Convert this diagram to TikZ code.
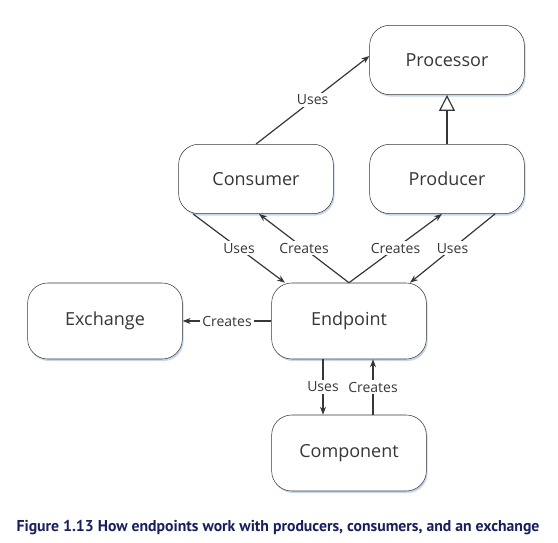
\documentclass[tikz,border=0pt]{standalone}
\usepackage{fontspec}
\setmainfont{Open Sans}
\newfontfamily\capfont{PT Sans}
\usetikzlibrary{arrows.meta, calc, shadows}
\definecolor{ink}{RGB}{55,55,55}
\definecolor{shade}{RGB}{200,214,238}
\definecolor{capblue}{RGB}{25,30,95}

\begin{document}
\begin{tikzpicture}[x=0.75pt, y=-0.75pt,
  n/.style={draw=ink, fill=white, rounded corners=15pt, minimum width=116pt, minimum height=52pt,
            text=ink, font=\fontsize{13.5}{16}\selectfont,
            drop shadow={shadow xshift=1pt, shadow yshift=-1.5pt, fill=shade, opacity=1}},
  tall/.style={minimum height=57pt},
  lbl/.style={fill=white, inner sep=1.5pt, text=ink, font=\fontsize{10.5}{12}\selectfont},
  arr/.style={draw=ink, line width=0.9pt, -{Stealth[length=6pt, width=4.5pt]}},
  inh/.style={draw=ink, line width=0.9pt, -{Triangle[open, length=12pt, width=12pt]}}
]
  \useasboundingbox (0,0) rectangle (558,543);

  \node[n] (proc) at (447,60)  {Processor};
  \node[n] (cons) at (256,179) {Consumer};
  \node[n] (prod) at (447,179) {Producer};
  \node[n, tall] (exch) at (105,321) {Exchange};
  \node[n, tall] (endp) at (349,321) {Endpoint};
  \node[n, tall] (comp) at (349,453) {Component};
  \node[text=capblue, font=\capfont\bfseries\fontsize{11.8}{14}\selectfont] (cap) at (278,528)
    {Figure 1.13 How endpoints work with producers, consumers, and an exchange};

  \draw[arr] (cons.north) -- node[lbl]{Uses} ([yshift=3pt]proc.west);
  \draw[inh] (prod) -- (proc);
  \draw[arr] ($(cons.south)+(-63,0)$) -- node[lbl]{Uses} ($(endp.north)+(-64,0)$);
  \draw[arr] (endp.north) -- node[lbl]{Creates} ($(cons.south)+(3,0)$);
  \draw[arr] (endp.north) -- node[lbl]{Creates} ($(prod.south)+(-5,0)$);
  \draw[arr] ($(prod.south)+(48,0)$) -- node[lbl]{Uses} ($(endp.north)+(61,0)$);
  \draw[arr] (endp) -- node[lbl]{Creates} (exch);
  \draw[arr] ($(endp.south)+(-26,0)$) -- node[lbl]{Uses} ($(comp.north)+(-26,0)$);
  \draw[arr] ($(comp.north)+(24,0)$) -- node[lbl]{Creates} ($(endp.south)+(24,0)$);
\end{tikzpicture}
\end{document}
